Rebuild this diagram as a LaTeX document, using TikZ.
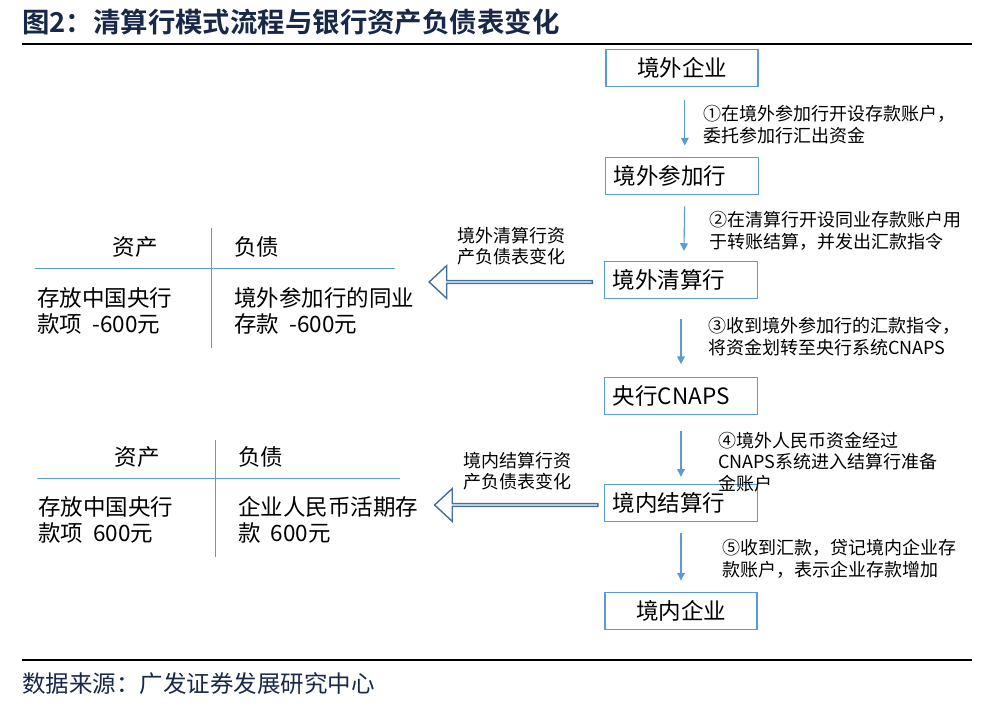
\documentclass[tikz,border=0pt]{standalone}
\usepackage{fontspec}
\setmainfont{Noto Sans CJK SC}[BoldFont={Noto Sans CJK SC Bold}]
\usepackage{xcolor}
\usepackage{tikz}
\usetikzlibrary{shapes.arrows, arrows.meta, positioning, calc}
\definecolor{boxblue}{RGB}{91, 155, 213}
\definecolor{arrowblue}{RGB}{65, 113, 156}
\definecolor{titlenavy}{RGB}{24, 40, 72}
\tikzstyle{stage} = [
    rectangle,
    minimum width=3.8cm,
    minimum height=0.92cm,
    draw=boxblue,
    line width=1.1pt,
    fill=white,
    inner xsep=6pt,
    font=\fontsize{16}{18}\selectfont
]
\tikzstyle{flow} = [
    line width=0.8pt,
    -{Triangle[width=5.5pt,length=5.5pt]},
    color=boxblue
]
\tikzstyle{steptext} = [
    anchor=west,
    inner sep=0pt,
    align=left,
    font=\fontsize{12.8}{15.5}\selectfont
]
\tikzstyle{sheetarrow} = [
    single arrow,
    shape border rotate=180,
    draw=arrowblue,
    line width=1pt,
    fill=white,
    inner sep=0pt,
    minimum height=4.08cm,
    minimum width=0.82cm,
    single arrow head extend=0.19cm,
    single arrow tip angle=86
]
\tikzstyle{sheettext} = [
    anchor=west,
    inner sep=0pt,
    align=left,
    font=\fontsize{16}{18.5}\selectfont
]
\tikzstyle{tline} = [line width=0.6pt, color=boxblue]

\begin{document}
\begin{tikzpicture}[x=0.025cm, y=-0.025cm]
        \useasboundingbox (0,0) rectangle (994,709);

        % Title and rules
        \node[anchor=west, inner sep=0pt, text=titlenavy, font=\fontsize{19.5}{22}\selectfont\bfseries] (title) at (22,22) {图2：清算行模式流程与银行资产负债表变化};
        \draw[line width=1pt] (22,44) -- (972,44);
        \draw[line width=1pt] (22,660) -- (972,660);
        \node[anchor=west, inner sep=0pt, text=titlenavy, font=\fontsize{16.7}{19}\selectfont] (source) at (22,684) {数据来源：广发证券发展研究中心};

        % Flow boxes
        \node[stage] (corp) at (682,68) {境外企业};
        \node[stage, text width=3.4cm] (partbank) at (682,176) {境外参加行};
        \node[stage, text width=3.4cm] (clearbank) at (681,280) {境外清算行};
        \node[stage, text width=3.4cm] (cnaps) at (681,396) {央行CNAPS};
        \node[stage, text width=3.4cm] (settlebank) at (681,503) {境内结算行};
        \node[stage] (domcorp) at (681,611) {境内企业};

        % Steps
        \draw[flow, shorten <=9pt, shorten >=8pt] ([xshift=2]corp.south) -- ([xshift=2]partbank.north);
        \draw[flow, shorten <=8pt, shorten >=7pt] ([xshift=2]partbank.south) -- ([xshift=2]clearbank.north);
        \draw[flow, shorten <=14pt, shorten >=9pt] (clearbank.south) -- (cnaps.north);
        \draw[flow, shorten <=11pt, shorten >=5pt] (cnaps.south) -- (settlebank.north);
        \draw[flow, shorten <=8pt, shorten >=8pt] (settlebank.south) -- (domcorp.north);

        \node[steptext] (s1) at (703,124.5) {①在境外参加行开设存款账户，\\委托参加行汇出资金};
        \node[steptext] (s2) at (709,231) {②在清算行开设同业存款账户用\\于转账结算，并发出汇款指令};
        \node[steptext] (s3) at (708,336.5) {③收到境外参加行的汇款指令，\\将资金划转至央行系统CNAPS};
        \node[steptext] (s4) at (718,462) {④境外人民币资金经过\\CNAPS系统进入结算行准备\\金账户};
        \node[steptext] (s5) at (722,559) {⑤收到汇款，贷记境内企业存\\款账户，表示企业存款增加};

        % Balance sheet arrows
        \node[sheetarrow] (clearshift) at (511.5,282) {};
        \node[sheetarrow] (settleshift) at (517,505) {};
        \node[anchor=south, inner sep=0pt, align=center, font=\fontsize{12.8}{15}\selectfont] (clearnote) at ([yshift=10pt]clearshift.north) {境外清算行资\\产负债表变化};
        \node[anchor=south, inner sep=0pt, align=center, font=\fontsize{12.8}{15}\selectfont] (settlenote) at ([yshift=9pt]settleshift.north) {境内结算行资\\产负债表变化};

        % Clearing bank sheet
        \draw[tline] (35,268) -- (395,268);
        \draw[tline] (211,228) -- (211,348);
        \node[sheettext, anchor=center] (ca) at (135,247) {资产};
        \node[sheettext] (cl) at (234,247) {负债};
        \node[sheettext] (cav) at (37,311) {存放中国央行\\款项 \ -600元};
        \node[sheettext] (clv) at (234,311) {境外参加行的同业\\存款 \ -600元};

        % Settlement bank sheet
        \draw[tline] (37,478) -- (400,478);
        \draw[tline] (215,440) -- (215,557);
        \node[sheettext, anchor=center] (sa) at (137,457) {资产};
        \node[sheettext] (sl) at (238,457) {负债};
        \node[sheettext] (sav) at (38,520) {存放中国央行\\款项 \ 600元};
        \node[sheettext] (slv) at (238,520) {企业人民币活期存\\款 \ 600元};
    \end{tikzpicture}
\end{document}
